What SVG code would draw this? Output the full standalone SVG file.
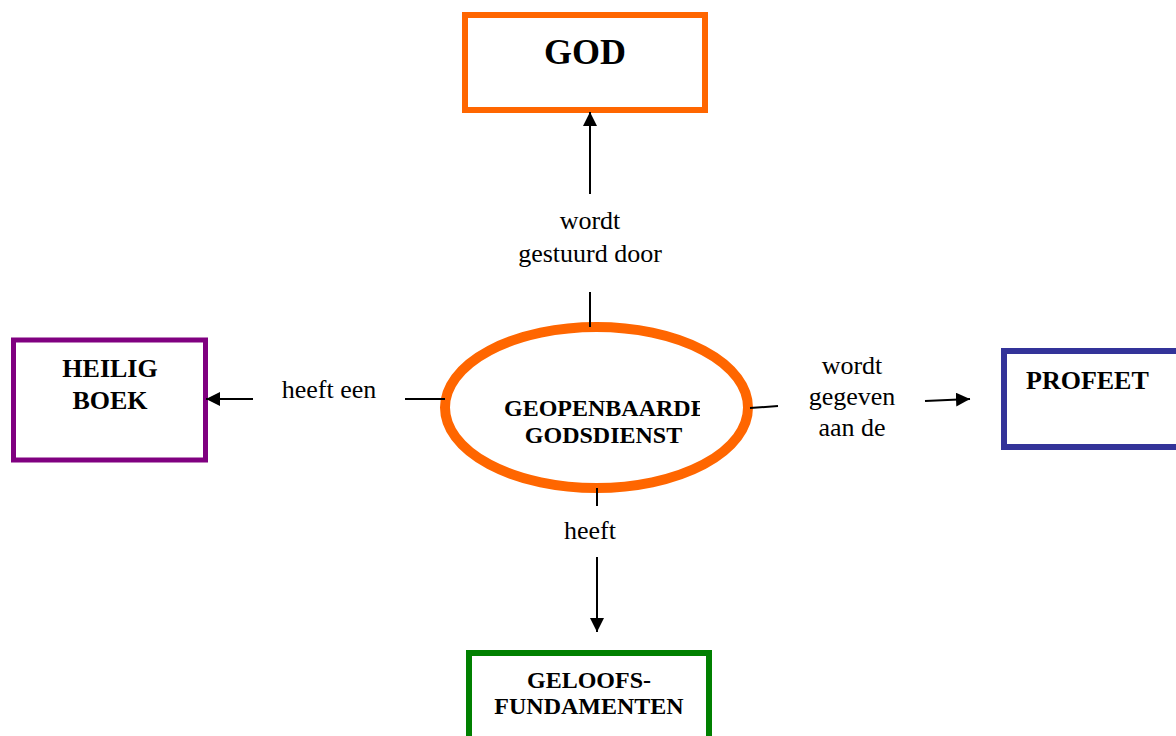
<svg xmlns="http://www.w3.org/2000/svg" width="1176" height="736" viewBox="0 0 1176 736">
<style>
.b{font-family:"Liberation Serif","Times New Roman",serif;font-weight:bold;fill:#000}
.n{font-family:"Liberation Serif","Times New Roman",serif;font-size:26px;fill:#000;text-anchor:middle}
.ln{stroke:#000;stroke-width:2;fill:none}
</style>
<defs>
<marker id="ah" viewBox="0 0 14 14" refX="14" refY="7" markerWidth="14" markerHeight="14" markerUnits="userSpaceOnUse" orient="auto">
<path d="M0,0 L14,7 L0,14 Z" fill="#000"/>
</marker>
<clipPath id="ec"><rect x="440" y="380" width="260" height="80"/></clipPath>
</defs>
<rect width="1176" height="736" fill="#fff"/>
<g id="god">
<rect x="465" y="15" width="240" height="95" fill="#fff" stroke="#FF6600" stroke-width="6"/>
<text class="b" x="585" y="64" font-size="36" text-anchor="middle">GOD</text>
</g>
<g id="heilig-boek">
<rect x="13.5" y="340" width="192" height="120" fill="#fff" stroke="#800080" stroke-width="5"/>
<text class="b" x="110" y="377" font-size="26" text-anchor="middle">HEILIG</text>
<text class="b" x="110" y="409" font-size="26" text-anchor="middle">BOEK</text>
</g>
<g id="profeet">
<rect x="1004" y="351" width="200" height="96" fill="#fff" stroke="#333399" stroke-width="6"/>
<text class="b" x="1026" y="389" font-size="26">PROFEET</text>
</g>
<g id="geloofsfundamenten">
<rect x="469" y="653" width="240" height="100" fill="#fff" stroke="#008000" stroke-width="6"/>
<text class="b" x="589" y="688" font-size="24" text-anchor="middle">GELOOFS-</text>
<text class="b" x="589" y="714" font-size="24" text-anchor="middle">FUNDAMENTEN</text>
</g>
<g id="geopenbaarde-godsdienst">
<ellipse cx="596.5" cy="407.5" rx="151.5" ry="80.5" fill="#fff" stroke="#FF6600" stroke-width="10"/>
<g clip-path="url(#ec)">
<text class="b" x="504" y="416" font-size="24">GEOPENBAARDE</text>
</g>
<text class="b" x="603.5" y="443" font-size="24" text-anchor="middle">GODSDIENST</text>
</g>
<g id="connectors">
<line class="ln" x1="590" y1="327" x2="590" y2="292"/>
<line class="ln" x1="590" y1="194" x2="590" y2="112" marker-end="url(#ah)"/>
<text class="n" x="590" y="229">wordt</text>
<text class="n" x="590" y="262">gestuurd door</text>
<line class="ln" x1="445" y1="399" x2="405" y2="399"/>
<line class="ln" x1="253" y1="399" x2="206" y2="399" marker-end="url(#ah)"/>
<text class="n" x="329" y="398">heeft een</text>
<line class="ln" x1="750" y1="408" x2="778" y2="406"/>
<line class="ln" x1="925" y1="401" x2="970" y2="399" marker-end="url(#ah)"/>
<text class="n" x="852" y="374">wordt</text>
<text class="n" x="852" y="405">gegeven</text>
<text class="n" x="852" y="436">aan de</text>
<line class="ln" x1="597" y1="488" x2="597" y2="506"/>
<line class="ln" x1="597" y1="557" x2="597" y2="632" marker-end="url(#ah)"/>
<text class="n" x="590" y="539" font-size="23">heeft</text>
</g>
</svg>
